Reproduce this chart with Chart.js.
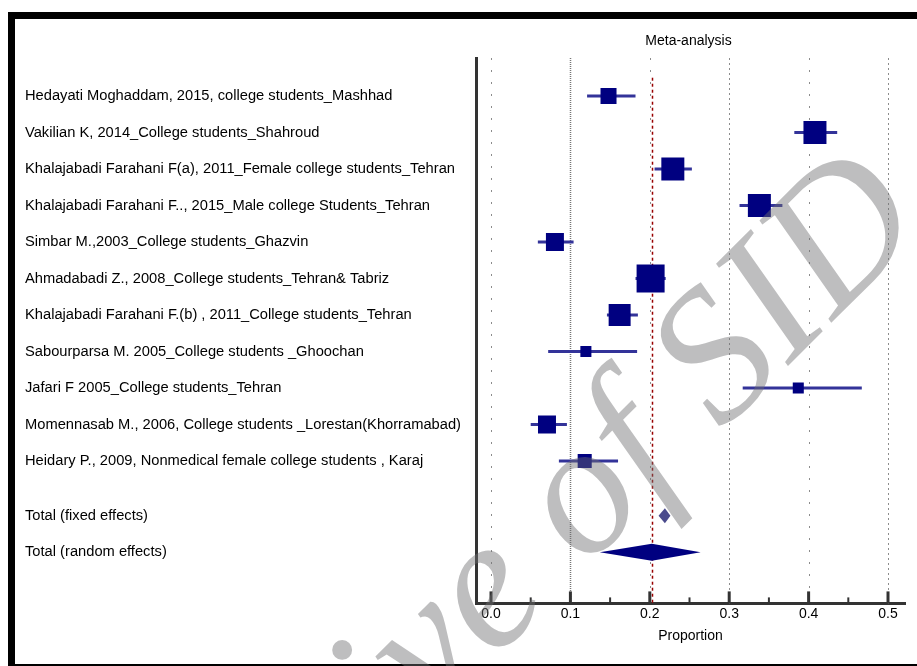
<!DOCTYPE html>
<html>
<head>
<meta charset="utf-8">
<script src="https://cdn.jsdelivr.net/npm/chart.js@4.4.0/dist/chart.umd.min.js"></script>
<style>
  html, body { margin: 0; padding: 0; background: #fff; overflow: hidden; }
  #frame {
    position: absolute; left: 8px; top: 12px; width: 1000px; height: 645px;
    border-top: 7px solid #000; border-left: 7px solid #000; border-bottom: 2px solid #000;
  }
  #wrap { position: absolute; left: 0; top: 0; width: 917px; height: 666px; }
</style>
</head>
<body>
<div id="frame"></div>
<div id="wrap"><canvas id="chart" width="917" height="666"></canvas></div>
<script>
// studies, top to bottom
const studies = [
  "Hedayati Moghaddam, 2015, college students_Mashhad",
  "Vakilian K, 2014_College students_Shahroud",
  "Khalajabadi Farahani F(a), 2011_Female college students_Tehran",
  "Khalajabadi Farahani F.., 2015_Male college Students_Tehran",
  "Simbar M.,2003_College students_Ghazvin",
  "Ahmadabadi Z., 2008_College students_Tehran& Tabriz",
  "Khalajabadi Farahani F.(b) , 2011_College students_Tehran",
  "Sabourparsa M. 2005_College students _Ghoochan",
  "Jafari F 2005_College students_Tehran",
  "Momennasab M., 2006, College students _Lorestan(Khorramabad)",
  "Heidary P., 2009, Nonmedical female college students , Karaj"
];
const proportion = [0.148, 0.408, 0.229, 0.338, 0.0805, 0.201, 0.162, 0.1195, 0.387, 0.0705, 0.118];
const ciLow      = [0.121, 0.382, 0.206, 0.313, 0.059, 0.182, 0.146, 0.072, 0.317, 0.050, 0.0855];
const ciHigh     = [0.182, 0.436, 0.253, 0.367, 0.104, 0.220, 0.185, 0.184, 0.467, 0.0956, 0.160];
const weights    = [6.1, 12.6, 12.6, 12.6, 7.7, 18.7, 11.5, 2.9, 2.9, 7.7, 4.7];

const totalLabels = ["Total (fixed effects)", "Total (random effects)"];
const totalEst  = [0.219, 0.2025];
const totalLow  = [0.211, 0.137];
const totalHigh = [0.226, 0.264];

const xTicks = [0, 0.1, 0.2, 0.3, 0.4, 0.5];

const allLabels = studies.concat(totalLabels);
const n = studies.length;
// totals sit one and a half rows below the last study
function rowPos(i) { return i < n ? i : n + 0.5 + (i - n); }
// square side in px, area proportional to weight
function side(w) { return 6.48 * Math.sqrt(w); }

const FONT = '"Liberation Sans", Arial, sans-serif';
const NAVY = '#000080';

const forest = {
  id: 'forest',
  beforeDatasetsDraw(chart) {
    const { ctx, chartArea: a, scales: { x, y } } = chart;
    ctx.save();
    // dotted vertical grid
    xTicks.forEach((v, i) => {
      const px = Math.round(x.getPixelForValue(v)) + 0.5;
      ctx.beginPath();
      ctx.strokeStyle = i === 1 ? '#777' : '#8c8c8c';
      ctx.lineWidth = i === 1 ? 1.5 : 1;
      ctx.setLineDash(i % 2 ? (i === 1 ? [1, 1] : [2, 3]) : [2, 10]);
      ctx.moveTo(px, a.top);
      ctx.lineTo(px, a.bottom);
      ctx.stroke();
    });
    // pooled (random) estimate line
    const rx = Math.round(x.getPixelForValue(totalEst[1])) + 0.5;
    ctx.beginPath();
    ctx.strokeStyle = '#990000';
    ctx.lineWidth = 1.5;
    ctx.setLineDash([3, 3]);
    ctx.moveTo(rx, y.getPixelForValue(-0.5));
    ctx.lineTo(rx, a.bottom);
    ctx.stroke();
    // confidence intervals
    ctx.setLineDash([]);
    ctx.strokeStyle = '#333399';
    ctx.lineWidth = 3;
    studies.forEach((s, i) => {
      const py = y.getPixelForValue(rowPos(i));
      ctx.beginPath();
      ctx.moveTo(x.getPixelForValue(ciLow[i]), py);
      ctx.lineTo(x.getPixelForValue(ciHigh[i]), py);
      ctx.stroke();
    });
    ctx.restore();
  },
  afterDatasetsDraw(chart) {
    const { ctx, chartArea: a, scales: { x, y } } = chart;
    ctx.save();
    // pooled diamonds
    const half = [7.5, 8.5];
    totalLabels.forEach((t, k) => {
      const py = y.getPixelForValue(rowPos(n + k));
      const cx = x.getPixelForValue(totalEst[k]);
      ctx.beginPath();
      ctx.moveTo(x.getPixelForValue(totalLow[k]), py);
      ctx.lineTo(cx, py - half[k]);
      ctx.lineTo(x.getPixelForValue(totalHigh[k]), py);
      ctx.lineTo(cx, py + half[k]);
      ctx.closePath();
      ctx.fillStyle = k === 0 ? '#4a4a8c' : NAVY;
      ctx.fill();
    });
    // tick marks pointing up from the x axis
    ctx.strokeStyle = '#333';
    for (let j = 0; j <= 10; j++) {
      const px = x.getPixelForValue(j * 0.05);
      ctx.beginPath();
      ctx.lineWidth = j % 2 ? 2 : 3;
      ctx.moveTo(px, a.bottom);
      ctx.lineTo(px, a.bottom - (j % 2 ? 6 : 12));
      ctx.stroke();
    }
    // title
    ctx.fillStyle = '#000';
    ctx.font = '14px ' + FONT;
    ctx.textAlign = 'center';
    ctx.textBaseline = 'middle';
    ctx.fillText('Meta-analysis', (a.left + a.right) / 2 - 2, 41);
    ctx.restore();
  },
  afterDraw(chart) {
    // watermark
    const ctx = chart.ctx;
    ctx.save();
    ctx.font = 'italic 188px "Liberation Serif", "Times New Roman", serif';
    const lead = ctx.measureText('Archive of ').width;
    const ang = -45 * Math.PI / 180;
    const sx = 722, sy = 432;
    ctx.translate(sx - lead * Math.cos(ang), sy - lead * Math.sin(ang));
    ctx.rotate(ang);
    ctx.fillStyle = 'rgba(110,110,112,0.45)';
    ctx.textAlign = 'left';
    ctx.textBaseline = 'alphabetic';
    ctx.fillText('Archive of SID', 0, 0);
    ctx.restore();
  }
};

new Chart(document.getElementById('chart'), {
  type: 'scatter',
  data: {
    datasets: [{
      data: proportion.map((v, i) => ({ x: v, y: rowPos(i) })),
      pointStyle: 'rect',
      pointRadius: weights.map(w => side(w) / Math.SQRT2),
      backgroundColor: NAVY,
      borderWidth: 0
    }]
  },
  options: {
    responsive: false,
    animation: false,
    events: [],
    layout: { autoPadding: false, padding: { left: 25, right: 12, top: 58, bottom: 17 } },
    plugins: { legend: { display: false }, tooltip: { enabled: false }, title: { display: false } },
    scales: {
      x: {
        type: 'linear',
        min: -0.0189,
        max: 0.5214,
        afterBuildTicks: s => { s.ticks = xTicks.map(v => ({ value: v })); },
        grid: { drawOnChartArea: false, drawTicks: false },
        border: { display: true, width: 3, color: '#333' },
        ticks: { padding: 2, color: '#000', font: { family: FONT, size: 14 }, callback: v => v.toFixed(1) },
        title: { display: true, text: 'Proportion', color: '#000', font: { family: FONT, size: 14 }, padding: { top: 4, bottom: 4 } }
      },
      y: {
        type: 'linear',
        reverse: true,
        min: -1.04,
        max: 13.9,
        afterBuildTicks: s => { s.ticks = allLabels.map((l, i) => ({ value: rowPos(i) })); },
        afterFit: s => { s.width = 451; },
        grid: { drawOnChartArea: false, drawTicks: false },
        border: { display: true, width: 3, color: '#333' },
        ticks: {
          autoSkip: false,
          crossAlign: 'far',
          padding: 0,
          color: '#000',
          font: { family: FONT, size: 14.7 },
          callback: (v, i) => allLabels[i]
        }
      }
    }
  },
  plugins: [forest]
});
</script>
</body>
</html>
